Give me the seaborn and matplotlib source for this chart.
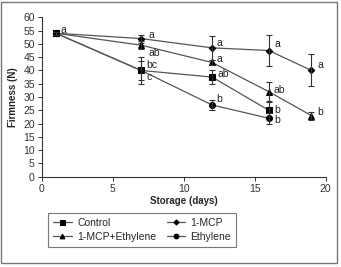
import matplotlib
matplotlib.use("Agg")
import matplotlib.pyplot as plt
import seaborn as sns
import pandas as pd
from matplotlib.patches import Rectangle

sns.set_style("white")
plt.rcParams['font.family'] = ['Liberation Sans Narrow', 'Liberation Sans', 'DejaVu Sans']

series = ["Control", "1-MCP", "1-MCP+Ethylene", "Ethylene"]
days_control = [1, 7, 12, 16]
vals_control = [54, 40, 37.5, 25]
err_control = [0.5, 5, 2.5, 3]
let_control = ["", "bc", "ab", "b"]

days_mcp = [1, 7, 12, 16, 19]
vals_mcp = [54, 52, 48.5, 47.5, 40]
err_mcp = [0.5, 1.5, 4.5, 5.8, 6]
let_mcp = ["a", "a", "a", "a", "a"]

days_mcpe = [1, 7, 12, 16, 19]
vals_mcpe = [54, 49.5, 43, 32, 23]
err_mcpe = [0.5, 1.5, 1, 3.5, 1.5]
let_mcpe = ["", "ab", "a", "ab", "b"]

days_eth = [1, 7, 12, 16]
vals_eth = [54, 40, 27, 22]
err_eth = [0.5, 3.5, 2, 2]
let_eth = ["", "c", "b", "b"]

data = {
    "Control": (days_control, vals_control, err_control, let_control),
    "1-MCP": (days_mcp, vals_mcp, err_mcp, let_mcp),
    "1-MCP+Ethylene": (days_mcpe, vals_mcpe, err_mcpe, let_mcpe),
    "Ethylene": (days_eth, vals_eth, err_eth, let_eth),
}
markers = {"Control": "s", "1-MCP": "D", "1-MCP+Ethylene": "^", "Ethylene": "o"}
msizes = {"Control": 4.5, "1-MCP": 3.3, "1-MCP+Ethylene": 4.3, "Ethylene": 4.3}
# letter offsets (dx, dy) in data units
let_off = {
    "Control": [(0, 0), (0.35, 2.0), (0.35, 1.3), (0.35, 0)],
    "1-MCP": [(0.3, 1.3), (0.5, 1.5), (0.3, 2.0), (0.4, 2.5), (0.4, 2.0)],
    "1-MCP+Ethylene": [(0, 0), (0.5, -3.0), (0.3, 1.3), (0.35, 0.8), (0.4, 1.5)],
    "Ethylene": [(0, 0), (0.35, -2.6), (0.3, 2.3), (0.35, -0.6)],
}

rows = []
for s in series:
    d, v, e, l = data[s]
    for x, y in zip(d, v):
        rows.append({"series": s, "day": x, "firm": y})
df = pd.DataFrame(rows)

fig = plt.figure(figsize=(3.41, 2.67), dpi=100)
ax = fig.add_axes([0.1223, 0.3382, 0.8327, 0.597])

fig.patches.append(Rectangle((0.004, 0.014), 0.985, 0.978, transform=fig.transFigure,
                             fill=False, edgecolor="#777777", linewidth=1.0))

for s in series:
    d, v, e, l = data[s]
    sub = df[df.series == s]
    sns.lineplot(data=sub, x="day", y="firm", ax=ax, color="#555555", linewidth=0.9,
                 marker=markers[s], markersize=msizes[s], markerfacecolor="black",
                 markeredgecolor="black", label=s, legend=False, errorbar=None)
    ax.errorbar(d, v, yerr=e, fmt="none", ecolor="#333333", elinewidth=0.8,
                capsize=2.2, capthick=0.8)
    for (x, y, t), (dx, dy) in zip(zip(d, v, l), let_off[s]):
        if t:
            ax.text(x + dx, y + dy, t, fontsize=7.5, color="#222222",
                    ha="left", va="center")

ax.set_xlim(0, 20)
ax.set_ylim(0, 60)
ax.set_xticks([0, 5, 10, 15, 20])
ax.set_yticks(range(0, 61, 5))
for sp in ["top", "right"]:
    ax.spines[sp].set_visible(False)
for sp in ["left", "bottom"]:
    ax.spines[sp].set_color("#333333")
    ax.spines[sp].set_linewidth(0.8)
ax.tick_params(axis="both", which="both", direction="out", length=3, width=0.7,
               labelsize=7.5, colors="#333333", pad=2, left=True, bottom=True)
ax.set_xlabel("Storage (days)", fontsize=7, fontweight="bold", labelpad=2)
ax.set_ylabel("Firmness (N)", fontsize=7, fontweight="bold", labelpad=4)

handles_all = {}
for line in ax.get_lines():
    lab = line.get_label()
    if lab in series:
        handles_all[lab] = line
order = ["Control", "1-MCP+Ethylene", "1-MCP", "Ethylene"]
leg = fig.legend([handles_all[o] for o in order], order, ncol=2,
                 loc="lower left", bbox_to_anchor=(0.125, 0.056),
                 fontsize=7.5, frameon=True, fancybox=False, handlelength=1.8,
                 columnspacing=1.0, borderpad=0.5, labelspacing=0.35,
                 handletextpad=0.5, markerscale=0.8)
leg.get_frame().set_edgecolor("#555555")
leg.get_frame().set_linewidth(0.8)

fig.savefig("out.png", dpi=100)
